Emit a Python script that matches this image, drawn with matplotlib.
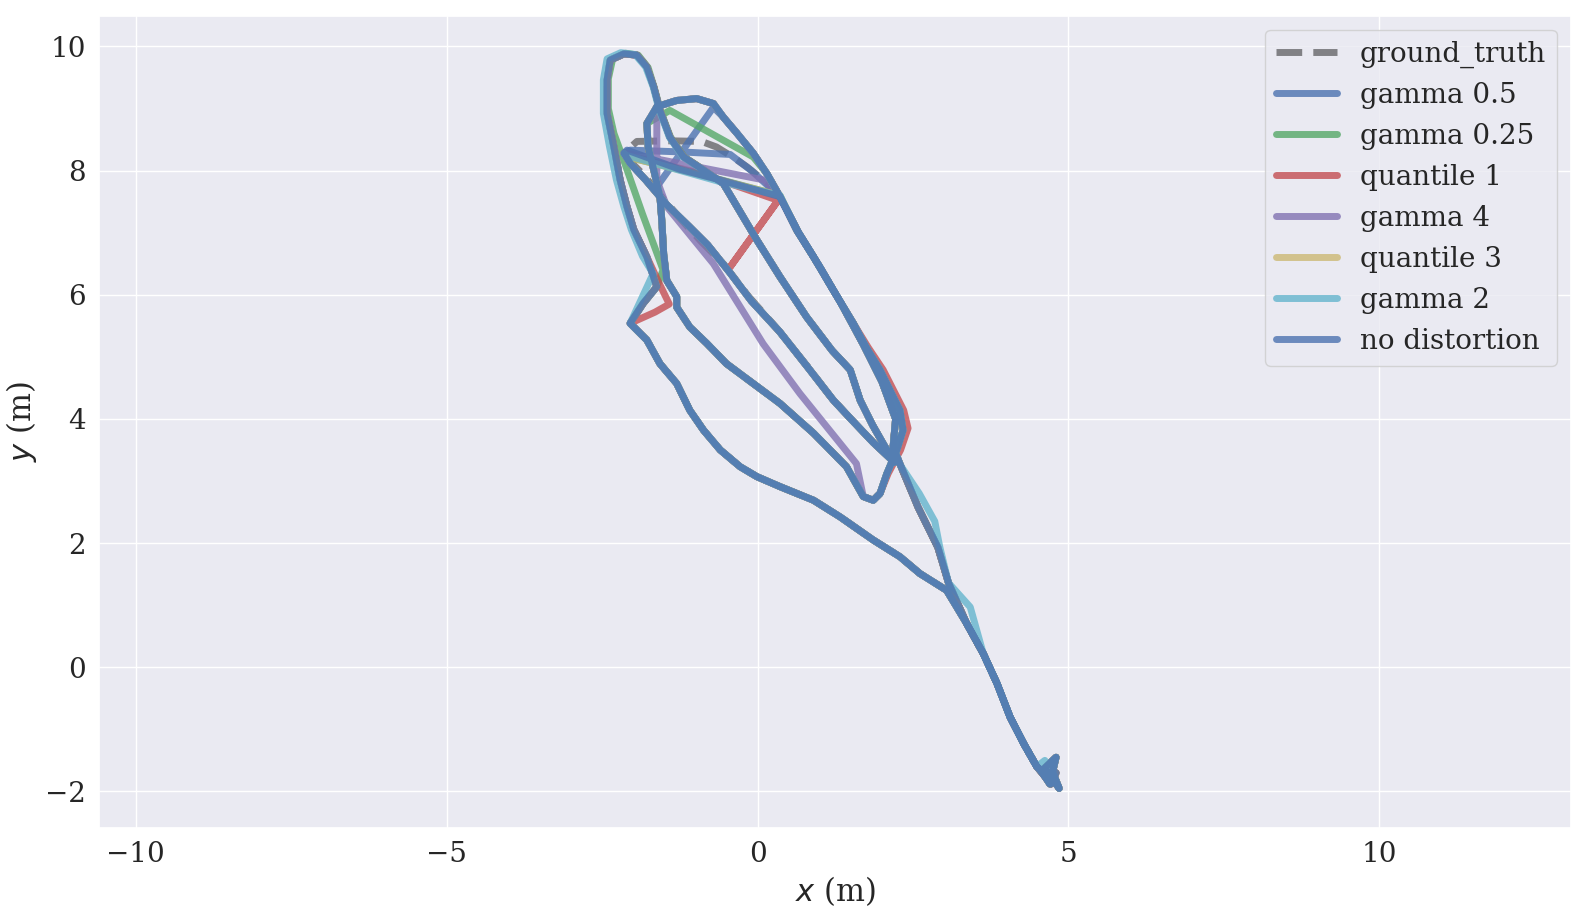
import numpy as np
import matplotlib.pyplot as plt
import seaborn as sns

sns.set_theme(style='darkgrid')
plt.rcParams['font.family'] = ['DejaVu Serif']

# --- trajectory pieces (x, y in metres) ---
climb_x = [4.75, 4.85, 4.62, 4.80, 4.70, 4.55, 4.49, 4.28, 4.06, 3.85, 3.63, 3.36, 3.04]
climb_y = [-1.70, -1.95, -1.62, -1.45, -1.88, -1.65, -1.60, -1.23, -0.80, -0.26, 0.22, 0.71, 1.24]

lower_x = [2.61, 2.29, 1.86, 1.33, 0.90, 0.36, -0.01, -0.28, -0.60, -0.87, -1.09, -1.30, -1.57, -1.78, -2.05]
lower_y = [1.51, 1.78, 2.05, 2.42, 2.69, 2.91, 3.07, 3.23, 3.50, 3.82, 4.14, 4.57, 4.89, 5.27, 5.54]

corner_x = [-1.84, -1.62]
corner_y = [5.86, 6.13]
corner_red_x = [-1.65, -1.42, -1.58]
corner_red_y = [5.72, 5.85, 6.18]
corner_cyan_x = [-1.68]
corner_cyan_y = [6.34]

outer_x = [-1.78, -1.99, -2.10, -2.21, -2.31, -2.42, -2.42, -2.37, -2.15, -1.94, -1.78, -1.67, -1.57, -1.41, -1.19, -0.87, -0.55]
outer_y = [6.61, 7.05, 7.42, 7.85, 8.38, 8.92, 9.46, 9.78, 9.88, 9.86, 9.67, 9.35, 8.97, 8.54, 8.22, 8.01, 7.79]
outer_green_x = [-1.52, -1.85, -2.15, -2.31, -2.40, -2.40, -2.33, -2.12, -1.92, -1.76, -1.66, -1.56, -1.40, -1.18, -0.86, -0.55]
outer_green_y = [6.40, 7.30, 8.16, 8.60, 9.00, 9.48, 9.80, 9.89, 9.86, 9.66, 9.33, 8.96, 8.54, 8.22, 8.01, 7.79]
outer_cyan_x = [-1.85, -2.03, -2.15, -2.27, -2.38, -2.48, -2.48, -2.42, -2.20, -1.97, -1.80, -1.68, -1.58, -1.42, -1.20, -0.88, -0.55]
outer_cyan_y = [6.62, 7.05, 7.42, 7.85, 8.38, 8.92, 9.46, 9.80, 9.90, 9.87, 9.67, 9.35, 8.97, 8.54, 8.22, 8.01, 7.79]

descent_x = [-0.33, -0.01, 0.36, 0.79, 1.20, 1.49, 1.65, 1.85, 2.05, 2.20]
descent_y = [7.42, 6.88, 6.29, 5.64, 5.10, 4.79, 4.30, 3.90, 3.55, 3.30]

diag_x = [1.86, 1.50, 1.22, 0.84, 0.36, -0.10, -0.44, -0.80, -1.10, -1.46, -1.80, -2.05, -2.15]
diag_y = [3.62, 4.00, 4.30, 4.79, 5.40, 5.90, 6.35, 6.80, 7.10, 7.45, 7.85, 8.12, 8.28]
diag_gt_x = [1.86, 1.50, 1.18, 0.80, 0.30, -0.15, -0.55, -0.90, -1.20, -1.52, -1.85, -2.05, -2.15]
diag_gt_y = [3.62, 4.00, 4.35, 4.85, 5.47, 5.98, 6.50, 6.85, 7.18, 7.55, 7.95, 8.15, 8.28]

top_gt_x = [-1.94, -1.40, -0.90, -0.66, -0.40, -0.17, 0.15, 0.36]
top_gt_y = [8.47, 8.48, 8.47, 8.38, 8.22, 8.06, 7.80, 7.58]
top_g05_x = [-2.05, -1.20, -0.44, -0.10, 0.36]
top_g05_y = [8.33, 8.30, 8.26, 8.00, 7.58]
top_g025_x = [-2.10, -1.00, 0.36]
top_g025_y = [8.22, 7.96, 7.60]
top_q1_x = [-2.10, -0.90, 0.33, -0.44, 0.33, 0.36]
top_q1_y = [8.25, 7.95, 7.52, 6.45, 7.52, 7.58]
top_g4_x = [-2.10, -0.92, 0.10, 0.36]
top_g4_y = [8.28, 8.05, 7.85, 7.58]
top_q3_x = [-2.10, -1.00, 0.36]
top_q3_y = [8.22, 7.95, 7.60]
top_g2_x = [-2.12, -0.60, 0.36]
top_g2_y = [8.25, 7.82, 7.60]
top_nd_x = [-2.10, -1.25, -0.60, 0.36]
top_nd_y = [8.33, 8.02, 7.85, 7.58]

right_x = [0.63, 0.90, 1.22, 1.54, 1.75, 1.97, 2.29, 2.34, 2.24, 2.08, 1.97, 1.86, 1.70]
right_y = [7.04, 6.61, 6.07, 5.54, 5.15, 4.79, 4.14, 3.82, 3.50, 3.12, 2.80, 2.69, 2.75]
right_red_x = [0.63, 0.90, 1.22, 1.54, 1.78, 2.02, 2.35, 2.42, 2.30, 2.10, 1.97, 1.86, 1.70]
right_red_y = [7.04, 6.61, 6.07, 5.54, 5.15, 4.79, 4.14, 3.85, 3.50, 3.12, 2.80, 2.69, 2.75]

back_x = [1.43, 0.90, 0.36, -0.07, -0.50, -0.82, -1.09, -1.30, -1.30, -1.46, -1.51, -1.54, -1.57, -1.67, -1.76, -1.78]
back_y = [3.23, 3.77, 4.25, 4.57, 4.89, 5.22, 5.48, 5.80, 5.97, 6.23, 6.66, 7.20, 7.58, 8.01, 8.38, 8.76]
back_g05_x = [1.43, 0.90, 0.36, -0.07, -0.50, -0.82, -1.09, -1.30, -1.30, -1.46, -1.51, -1.54, -1.57, -1.62]
back_g05_y = [3.23, 3.77, 4.25, 4.57, 4.89, 5.22, 5.48, 5.80, 5.97, 6.23, 6.66, 7.20, 7.58, 7.74]
back_g4_x = [1.59, 0.68, 0.09, -0.71, -1.46, -1.62, -1.62]
back_g4_y = [3.28, 4.41, 5.21, 6.50, 7.42, 7.85, 8.86]

inner_x = [-1.62, -1.30, -0.98, -0.71, -0.55, -0.33, -0.07, 0.15, 0.36]
inner_y = [9.03, 9.13, 9.16, 9.08, 8.86, 8.60, 8.28, 7.95, 7.58]
inner_g05_x = [-0.71, -0.55, -0.33, -0.07, 0.15, 0.36]
inner_g05_y = [9.02, 8.86, 8.60, 8.28, 7.95, 7.58]
inner_g025_x = [-1.41, -0.07, 0.15, 0.36]
inner_g025_y = [8.97, 8.22, 7.95, 7.58]

ret_x = [0.66, 1.00, 1.35, 1.70, 2.00, 2.22, 2.18, 2.30, 2.58, 2.90, 3.07, 3.36, 3.63, 3.85, 4.06, 4.28, 4.49, 4.72, 4.80]
ret_y = [7.00, 6.45, 5.85, 5.20, 4.60, 4.00, 3.55, 3.25, 2.58, 1.93, 1.36, 0.71, 0.22, -0.26, -0.80, -1.23, -1.60, -1.88, -1.70]
ret_g2_x = [0.66, 1.00, 1.35, 1.70, 2.00, 2.22, 2.18, 2.30, 2.60, 2.85, 2.93, 3.07, 3.42, 3.63, 3.85, 4.06, 4.28, 4.49, 4.62, 4.68, 4.75]
ret_g2_y = [7.00, 6.45, 5.85, 5.20, 4.60, 4.00, 3.55, 3.25, 2.80, 2.35, 1.94, 1.36, 0.97, 0.22, -0.26, -0.80, -1.23, -1.60, -1.50, -1.80, -1.60]

labels = ['gamma 0.5', 'gamma 0.25', 'quantile 1', 'gamma 4', 'quantile 3', 'gamma 2', 'no distortion']
colors = ['#4C72B0', '#55A868', '#C44E52', '#8172B2', '#CCB974', '#64B5CD', '#4C72B0']


def path(*parts):
    xs = np.concatenate([p[0] for p in parts])
    ys = np.concatenate([p[1] for p in parts])
    return xs, ys


climb = (climb_x, climb_y)
lower = (lower_x, lower_y)
corner = (corner_x, corner_y)
outer = (outer_x, outer_y)
descent = (descent_x, descent_y)
diag = (diag_x, diag_y)
right = (right_x, right_y)
back = (back_x, back_y)
inner = (inner_x, inner_y)
ret = (ret_x, ret_y)

gt = path(climb, lower, corner, outer, descent, (diag_gt_x, diag_gt_y), (top_gt_x, top_gt_y),
          right, back, inner, ret)
estimates = [
    path(climb, lower, corner, outer, descent, diag, (top_g05_x, top_g05_y), right,
         (back_g05_x, back_g05_y), (inner_g05_x, inner_g05_y), ret),
    path(climb, lower, corner, (outer_green_x, outer_green_y), descent, diag, (top_g025_x, top_g025_y),
         right, back, (inner_g025_x, inner_g025_y), ret),
    path(climb, lower, (corner_red_x, corner_red_y), outer, descent, diag, (top_q1_x, top_q1_y),
         (right_red_x, right_red_y), back, inner, ret),
    path(climb, lower, corner, outer, descent, diag, (top_g4_x, top_g4_y), right,
         (back_g4_x, back_g4_y), inner, ret),
    path(climb, lower, corner, outer, descent, diag, (top_q3_x, top_q3_y), right, back, inner, ret),
    path(climb, lower, (corner_cyan_x, corner_cyan_y), (outer_cyan_x, outer_cyan_y), descent, diag,
         (top_g2_x, top_g2_y), right, back, inner, (ret_g2_x, ret_g2_y)),
    path(climb, lower, corner, outer, descent, diag, (top_nd_x, top_nd_y), right, back, inner, ret),
]

fig, ax = plt.subplots(figsize=(15.9, 9.16), dpi=100)
fig.subplots_adjust(left=0.0623, right=0.988, bottom=0.096, top=0.9825)

ax.plot(gt[0], gt[1], 'k--', lw=5, alpha=0.5, label='ground_truth')
for (ex, ey), lab, c in zip(estimates, labels, colors):
    ax.plot(ex, ey, color=c, lw=5, alpha=0.8, label=lab,
            solid_joinstyle='round', solid_capstyle='round')

ax.set_xlim(-10.59, 13.08)
ax.set_ylim(-2.59, 10.49)
ax.set_xticks([-10, -5, 0, 5, 10])
ax.set_yticks([-2, 0, 2, 4, 6, 8, 10])
ax.tick_params(labelsize=20)
ax.set_xlabel('$x$ (m)', fontsize=22)
ax.set_ylabel('$y$ (m)', fontsize=22)
ax.legend(loc='upper right', fontsize=20, handlelength=2.2)

fig.savefig('out.png')
